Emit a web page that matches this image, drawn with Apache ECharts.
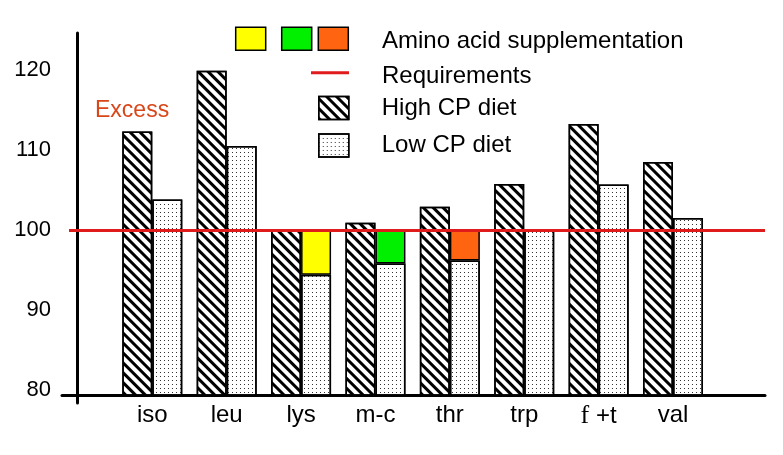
<!DOCTYPE html>
<html>
<head>
<meta charset="utf-8">
<script src="https://cdn.jsdelivr.net/npm/echarts@6/dist/echarts.min.js"></script>
<style>html,body{margin:0;padding:0;background:#fff}#c{width:783px;height:455px}</style>
</head>
<body>
<div id="c"></div>
<script>
const categories = ['iso', 'leu', 'lys', 'm-c', 'thr', 'trp', 'f+t', 'val'];
const highCP = [112.3, 119.9, 100.0, 100.9, 102.9, 105.75, 113.25, 108.5];
const lowCP = [103.8, 110.5, 94.4, 95.8, 96.2, 100.0, 105.7, 101.5];
const supplement = [null, null, 5.6, 4.2, 3.8, null, null, null];
const supplementColors = [null, null, '#ffff00', '#00f000', '#ff6410', null, null, null];
const requirement = 100;
const yTicks = [80, 90, 100, 110, 120];

const FONT = 'Liberation Sans, Arial, sans-serif';
const chart = echarts.init(document.getElementById('c'));

const hatch = {
  symbol: 'rect', symbolSize: 1, color: '#000',
  dashArrayX: [1, 0], dashArrayY: [3, 4], rotation: Math.PI / 4
};
const dots = {
  symbol: 'rect', symbolSize: 1, color: '#333',
  dashArrayX: [1, 3], dashArrayY: [1, 3], rotation: 0
};

const option = {
  backgroundColor: '#fff',
  animation: false,
  grid: [
    { left: 115.1, right: 72.8, top: 33, bottom: 60 },
    { left: 69, right: 18, top: 33, bottom: 65 },
    { left: 77, right: 18, top: 33, bottom: 52 },
    { left: 62, right: 18, top: 33, bottom: 60 }
  ],
  xAxis: [
    {
      gridIndex: 0, type: 'category', data: categories,
      axisLine: { show: false }, axisTick: { show: false },
      axisLabel: {
        interval: 0, fontSize: 24, color: '#000', fontFamily: FONT, margin: 8,
        formatter: v => v === 'f+t' ? '{s|f} +t' : v,
        rich: { s: { fontFamily: 'Liberation Serif, serif', fontSize: 26, color: '#000' } }
      }
    },
    { gridIndex: 1, type: 'value', min: 0, max: 1, show: false },
    { gridIndex: 2, type: 'value', min: 0, max: 1, show: false },
    {
      gridIndex: 3, type: 'value', min: 0, max: 1,
      axisLine: { show: true, onZero: false, lineStyle: { color: '#000', width: 3 } },
      axisTick: { show: false }, axisLabel: { show: false }, splitLine: { show: false }
    }
  ],
  yAxis: [
    { gridIndex: 0, type: 'value', min: 79.375, max: 124.625, show: false },
    {
      gridIndex: 1, type: 'value', min: yTicks[0], max: 124.625, interval: 10,
      axisLine: { show: false }, axisTick: { show: false }, splitLine: { show: false },
      axisLabel: {
        fontSize: 22, color: '#000', fontFamily: FONT, margin: 18,
        formatter: v => yTicks.indexOf(v) >= 0 ? String(v) : ''
      }
    },
    {
      gridIndex: 2, type: 'value', min: 0, max: 1,
      axisLine: { show: true, onZero: false, lineStyle: { color: '#000', width: 3 } },
      axisTick: { show: false }, axisLabel: { show: false }, splitLine: { show: false }
    },
    { gridIndex: 3, type: 'value', min: 0, max: 1, show: false }
  ],
  legend: {
    data: ['High CP diet', 'Low CP diet'],
    orient: 'vertical', left: 318, top: 95.7, padding: 0,
    icon: 'rect', itemWidth: 30, itemHeight: 23, itemGap: 13,
    selectedMode: false,
    itemStyle: { borderWidth: 1.5 },
    textStyle: { fontSize: 24, lineHeight: 23, color: '#000', fontFamily: FONT, padding: [0, 0, 0, 28] }
  },
  series: [
    {
      name: 'High CP diet', type: 'bar', xAxisIndex: 0, yAxisIndex: 0,
      stack: 'high', barWidth: 30, barGap: '0%', data: highCP,
      itemStyle: { color: '#fff', borderColor: '#000', borderWidth: 1.5, decal: hatch }
    },
    {
      name: 'Low CP diet', type: 'bar', xAxisIndex: 0, yAxisIndex: 0,
      stack: 'low', barWidth: 30, barGap: '0%', data: lowCP,
      itemStyle: { color: '#fff', borderColor: '#000', borderWidth: 1.5, decal: dots }
    },
    {
      name: 'Amino acid supplementation', type: 'bar', xAxisIndex: 0, yAxisIndex: 0,
      stack: 'low', barWidth: 30, barGap: '0%',
      data: supplement.map((v, i) => v == null ? '-' : { value: v, itemStyle: { color: supplementColors[i] } }),
      itemStyle: { borderColor: '#000', borderWidth: 1.5 }
    },
    {
      name: 'Requirements', type: 'line', xAxisIndex: 1, yAxisIndex: 1, data: [],
      z: 10,
      markLine: {
        silent: true, symbol: ['none', 'none'], label: { show: false },
        lineStyle: { color: '#e01b1b', width: 3, type: 'solid' },
        data: [{ yAxis: requirement }]
      }
    }
  ],
  graphic: [
    { type: 'rect', shape: { x: 235.7, y: 27.3, width: 30, height: 23 }, style: { fill: '#ffff00', stroke: '#000', lineWidth: 1.5 } },
    { type: 'rect', shape: { x: 281.7, y: 27.3, width: 30, height: 23 }, style: { fill: '#00f000', stroke: '#000', lineWidth: 1.5 } },
    { type: 'rect', shape: { x: 318.3, y: 27.3, width: 30, height: 23 }, style: { fill: '#ff6410', stroke: '#000', lineWidth: 1.5 } },
    { type: 'line', shape: { x1: 311, y1: 72.7, x2: 349, y2: 72.7 }, style: { stroke: '#e01b1b', lineWidth: 3 } },
    { type: 'text', left: 382, top: 29, style: { text: 'Amino acid supplementation', fontSize: 24, fill: '#000', fontFamily: FONT } },
    { type: 'text', left: 382, top: 64, style: { text: 'Requirements', fontSize: 24, fill: '#000', fontFamily: FONT } },
    { type: 'text', left: 95, top: 99, style: { text: 'Excess', fontSize: 23, fill: '#d9461a', fontFamily: FONT } }
  ]
};
chart.setOption(option);
</script>
</body>
</html>
